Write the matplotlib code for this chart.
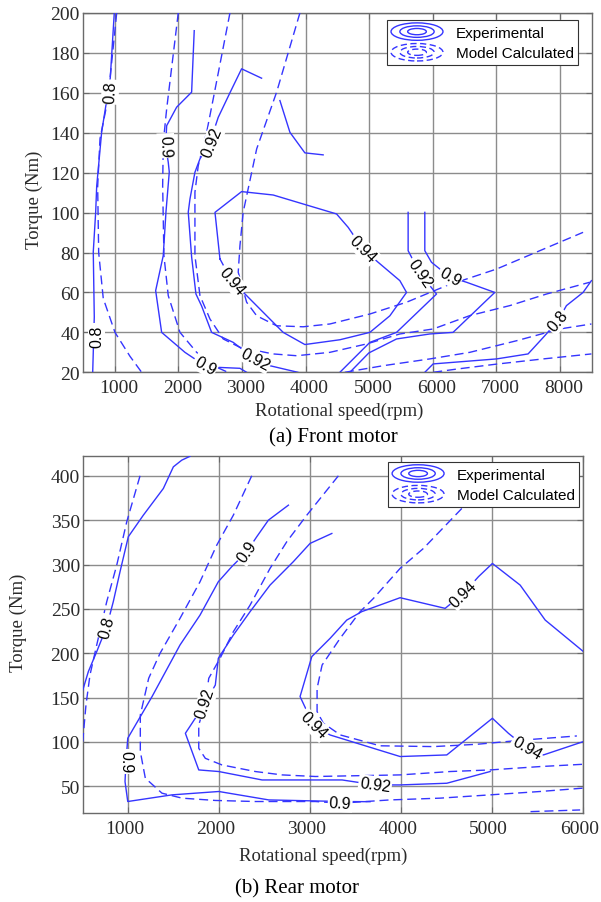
import matplotlib
matplotlib.use("Agg")
import matplotlib.pyplot as plt
from matplotlib.legend_handler import HandlerBase
from matplotlib.patches import Ellipse
from matplotlib.lines import Line2D
from matplotlib.transforms import ScaledTranslation

# ---------------- data: front motor ----------------
front_exp_080a_x = [996, 933, 798, 720, 704, 666, 682, 657]
front_exp_080a_y = [200, 167.4, 140.4, 113.3, 100.3, 80.3, 47.7, 20]
front_mod_080a_x = [1034, 929, 866, 772, 735, 751, 823, 1007, 1243, 1426]
front_mod_080a_y = [200, 167, 152, 137, 113, 80, 57, 40, 28, 20]

front_exp_090a_x = [2252, 2211, 1976, 1819, 1803, 1844, 1860, 1808, 1765, 1646, 1740, 2106, 2420, 2604, 2970, 3075]
front_exp_090a_y = [191.1, 160.3, 152.8, 143.5, 133.5, 125.2, 120.3, 100.3, 78.4, 60.9, 40.0, 30.0, 23.3, 22.5, 22.0, 20]
front_mod_090a_x = [2001, 1819, 1766, 1756, 1776, 1844, 2028, 2290, 2530, 2781]
front_mod_090a_y = [200, 151.9, 135.2, 113.5, 78.4, 58.4, 40.0, 30.0, 23.6, 20]

front_exp_092a_x = [3310, 2996, 2813, 2629, 2499, 2342, 2263, 2185, 2158, 2211, 2279, 2368, 2525, 2864, 3205, 3441, 3880]
front_exp_092a_y = [167.3, 172, 160, 147.7, 135.2, 126.9, 120.2, 106.8, 100.2, 77.8, 59.2, 53.2, 40.0, 35.0, 26.7, 23.3, 20]
front_exp_092b_x = [3598, 3755, 3990, 4277]
front_exp_092b_y = [156.1, 140.2, 129.9, 128.9]
front_exp_092c_x = [5612, 5612, 5796, 6058, 5430, 5011, 4540]
front_exp_092c_y = [100.1, 80.9, 69.7, 59.2, 40.0, 35.0, 20.0]
front_mod_092_x = [2813, 2550, 2447, 2315, 2263, 2263, 2263, 2342, 2499, 2707, 2970, 3492, 3860, 4383,
                   4959, 5482, 6005, 6581, 7209, 7785, 8465]
front_mod_092_y = [200, 156.9, 140.2, 123.5, 110.2, 100.2, 78.4, 58.4, 46.7, 36.7, 32.5, 29.2, 28.3, 30.0,
                   34.2, 39.2, 41.7, 48.4, 53.4, 59.2, 65.1]

front_exp_094_x = [2656, 2578, 2996, 3492, 3963, 4488, 4670, 4901, 5141, 5482, 5587, 5325, 5011, 4540,
                   3990, 3649, 3075, 2839, 2656]
front_exp_094_y = [76.8, 100.1, 110.5, 108.8, 104.3, 99.3, 92.6, 81.8, 75.1, 65.9, 60.0, 48.3, 40.0, 36.3,
                   33.9, 40.0, 58.4, 65.9, 76.8]
front_mod_094_x = [3912, 3546, 3233, 3021, 2970, 2943, 3075, 3233, 3546, 3963, 4383, 5011, 5587, 6215,
                   7000, 7680, 8360]
front_mod_094_y = [200, 160.3, 131.9, 100.2, 83.4, 70.1, 55.1, 48.3, 43.3, 42.8, 44.2, 49.2, 55.1, 63.4,
                   71.7, 80.9, 90.1]

front_exp_090b_x = [5874, 5874, 5979, 6267, 6529, 6973, 6318, 5953, 5430, 4995, 4697]
front_exp_090b_y = [100.1, 80.9, 75.1, 67.7, 65.1, 60.0, 40.0, 39.2, 36.7, 29.7, 20]
front_mod_090b_x = [4618, 5219, 5953, 6581, 7314, 7994, 8491]
front_mod_090b_y = [20, 23.3, 26.7, 30.0, 35.8, 41.7, 44.2]

front_exp_080b_x = [8491, 8360, 8099, 7962, 7758, 7496, 7000, 6005, 5874]
front_exp_080b_y = [65.9, 60.0, 53.4, 45.7, 38.3, 29.2, 26.7, 24.2, 20.0]
front_mod_080b_x = [6005, 6371, 7000, 7732, 8491]
front_mod_080b_y = [20, 21.6, 24.1, 26.7, 29.2]

front_label_text = ['0.8', '0.8', '0.9', '0.92', '0.94', '0.9', '0.92', '0.94', '0.92', '0.9', '0.8']
front_label_x = [931, 720, 1803, 2530, 2839, 2420, 3205, 4901, 5796, 6267, 7962]
front_label_y = [160.4, 38.3, 133.5, 135.2, 65.9, 23.3, 26.7, 81.8, 69.7, 67.7, 45.7]
front_label_rot = [87, 90, -88, 68, -50, -30, -28, -45, -55, -30, 50]

# ---------------- data: rear motor ----------------
rear_exp_080_x = [1679, 1588, 1496, 1386, 1166, 1001, 910, 836, 764, 654, 562, 500]
rear_exp_080_y = [422, 417.6, 410.1, 385.7, 355.6, 331.3, 291.9, 258.1, 230, 201.8, 179.3, 158.2]
rear_mod_080_x = [1130, 984, 874, 764, 654, 580, 536, 500]
rear_mod_080_y = [400, 348.2, 299.3, 258.1, 209.3, 175.5, 141.7, 100.5]
rear_mod_080b_x = [5420, 5965]
rear_mod_080b_y = [21.5, 23.4]

rear_exp_090_x = [2760, 2540, 2412, 2302, 2137, 1990, 1789, 1569, 1262, 995, 976, 965, 995, 1481, 1995,
                  2544, 3350, 3657]
rear_exp_090_y = [366.9, 350.0, 331.3, 314.4, 297.5, 280.6, 243.0, 209.3, 151.2, 104.2, 78, 55.4, 32.9,
                  40.4, 44.2, 34.7, 32.9, 32.7]
rear_mod_090_x = [2357, 2155, 1973, 1789, 1569, 1350, 1225, 1133, 1133, 1188, 1371, 1591, 1957, 2397,
                  3056, 3328, 3877, 4427, 4976, 5526, 6000]
rear_mod_090_y = [400, 355.6, 321.9, 280.6, 239.3, 200, 171.8, 130.4, 89.2, 59.2, 42.3, 36.7, 34.1, 32.9,
                  32.9, 31, 34.7, 36.7, 40.4, 44.2, 48.0]

rear_exp_092_x = [3237, 2998, 2814, 2558, 2339, 2155, 1990, 1957, 1844, 1701, 1628, 1775, 1995, 2471,
                  3350, 3712, 3987, 4500, 4976]
rear_exp_092_y = [335.0, 323.8, 303.2, 276.8, 246.9, 220.5, 194.3, 164.2, 143.6, 121.1, 109.8, 68.5,
                  66.7, 57.2, 57.2, 51.6, 51.6, 53.5, 66.7]
rear_mod_092_x = [3309, 2962, 2742, 2558, 2339, 2155, 2009, 1885, 1847, 1775, 1775, 1847, 2031, 2397,
                  2690, 3056, 3987, 4537, 4976, 5526, 6002]
rear_mod_092_y = [400, 355.6, 325.7, 295.6, 254.3, 224.3, 194.3, 171.8, 143.6, 119.2, 92.9, 81.6, 74.1,
                  66.7, 62.9, 61.1, 62.9, 66.7, 68.5, 72.3, 74.9]

rear_exp_094_x = [6002, 5581, 5306, 5001, 4848, 4683, 4482, 3987, 3566, 3401, 3218, 3017, 2888, 3034,
                  3218, 3987, 4500, 5001, 5177, 5380, 5562, 6002]
rear_exp_094_y = [201.8, 237.4, 276.8, 301.2, 286.3, 267.5, 250.6, 262.6, 246.9, 237.4, 216.8, 196.2,
                  151.2, 119.2, 107.9, 83.6, 85.4, 126.7, 109.8, 93.0, 85.4, 100.5]
rear_mod_094_x = [4665, 4243, 3987, 3694, 3548, 3328, 3130, 3075, 3075, 3144, 3331, 3767, 4353, 4830,
                  5342, 5929]
rear_mod_094_y = [363.2, 318.1, 295.6, 261.8, 246.9, 216.8, 186.7, 160.5, 134.3, 121.1, 107.9, 95.7,
                  94.8, 97.4, 102.2, 106.8]

rear_label_text = ['0.8', '0.9', '0.9', '0.92', '0.92', '0.94', '0.94', '0.94', '0.9']
rear_label_x = [764, 2302, 976, 1844, 3712, 3034, 4683, 5380, 3328]
rear_label_y = [230, 314.4, 78, 143.6, 51.6, 119.2, 267.5, 93.0, 31]
rear_label_rot = [75, 55, -90, 72, -8, -45, 45, -30, -3]

front_xticks = [1000, 2000, 3000, 4000, 5000, 6000, 7000, 8000]
front_yticks = [20, 40, 60, 80, 100, 120, 140, 160, 180, 200]
rear_xticks = [1000, 2000, 3000, 4000, 5000, 6000]
rear_yticks = [50, 100, 150, 200, 250, 300, 350, 400]

legend_labels = ['Experimental', 'Model Calculated']

# ---------------- style ----------------
BLUE = '#3535ff'
DASH = (0, (6.5, 3.5))
SERIF = ['Liberation Serif', 'DejaVu Serif']
SANS = ['Liberation Sans', 'DejaVu Sans']


class ContourHandler(HandlerBase):
    def __init__(self, ls):
        super().__init__()
        self.ls = ls

    def create_artists(self, legend, orig_handle, xdescent, ydescent, width, height, fontsize, trans):
        cx = width / 2 - xdescent
        cy = height / 2 - ydescent
        arts = []
        for f in (1.0, 0.66, 0.36):
            e = Ellipse((cx, cy), width * f, height * 1.15 * f, fill=False, ec=BLUE, lw=1.0,
                        ls=self.ls, transform=trans)
            arts.append(e)
        return arts


fig = plt.figure(figsize=(6.01, 9.03), dpi=100)
fig.patch.set_facecolor('white')

ax1 = fig.add_axes([0.1376, 0.5866, 0.8474, 0.398])
ax2 = fig.add_axes([0.1376, 0.0986, 0.833, 0.395])


def style_axes(ax, xlim, ylim, xticks, yticks, xshift_px):
    ax.set_xlim(*xlim)
    ax.set_ylim(*ylim)
    ax.set_xticks(xticks)
    ax.set_yticks(yticks)
    ax.grid(True, color='#8c8c8c', lw=1.0, ls='-')
    ax.set_axisbelow(True)
    for s in ax.spines.values():
        s.set_color('#6a6a6a')
        s.set_linewidth(1.0)
    ax.tick_params(which='both', direction='in', top=True, right=True, length=4,
                   color='#6a6a6a', labelcolor='#2a2a2a', labelsize=14)
    ax.tick_params(axis='x', pad=5)
    ax.tick_params(axis='y', pad=2)
    off = ScaledTranslation(xshift_px / 100.0, 0, fig.dpi_scale_trans)
    for lab in ax.get_xticklabels():
        lab.set_family(SERIF)
        lab.set_transform(lab.get_transform() + off)
    for lab in ax.get_yticklabels():
        lab.set_family(SERIF)


style_axes(ax1, (500, 8500), (20, 200), front_xticks, front_yticks, 4)
style_axes(ax2, (500, 6000), (20, 422), rear_xticks, rear_yticks, -3.5)

front_exp = [(front_exp_080a_x, front_exp_080a_y), (front_exp_090a_x, front_exp_090a_y),
             (front_exp_092a_x, front_exp_092a_y), (front_exp_092b_x, front_exp_092b_y),
             (front_exp_092c_x, front_exp_092c_y), (front_exp_094_x, front_exp_094_y),
             (front_exp_090b_x, front_exp_090b_y), (front_exp_080b_x, front_exp_080b_y)]
front_mod = [(front_mod_080a_x, front_mod_080a_y), (front_mod_090a_x, front_mod_090a_y),
             (front_mod_092_x, front_mod_092_y), (front_mod_094_x, front_mod_094_y),
             (front_mod_090b_x, front_mod_090b_y), (front_mod_080b_x, front_mod_080b_y)]
rear_exp = [(rear_exp_080_x, rear_exp_080_y), (rear_exp_090_x, rear_exp_090_y),
            (rear_exp_092_x, rear_exp_092_y), (rear_exp_094_x, rear_exp_094_y)]
rear_mod = [(rear_mod_080_x, rear_mod_080_y), (rear_mod_080b_x, rear_mod_080b_y),
            (rear_mod_090_x, rear_mod_090_y), (rear_mod_092_x, rear_mod_092_y),
            (rear_mod_094_x, rear_mod_094_y)]


def draw(ax, exp, mod, lt, lx, ly, lr, legend_anchor):
    for x, y in exp:
        ax.plot(x, y, color=BLUE, lw=1.0, ls='-', clip_on=True, zorder=3)
    for x, y in mod:
        ax.plot(x, y, color=BLUE, lw=1.0, ls=DASH, clip_on=True, zorder=3)
    for t, x, y, r in zip(lt, lx, ly, lr):
        ax.text(x, y, t, rotation=r, rotation_mode='anchor', ha='center', va='center',
                fontsize=11.5, family=SANS, color='black', zorder=5,
                bbox=dict(boxstyle='square,pad=0.08', fc='white', ec='none'))
    h1 = Line2D([], [], color=BLUE)
    h2 = Line2D([], [], color=BLUE, ls='--')
    leg = ax.legend([h1, h2], legend_labels, loc='upper right', bbox_to_anchor=legend_anchor,
                    borderaxespad=0,
                    handler_map={h1: ContourHandler('-'), h2: ContourHandler((0, (4.5, 2.5)))},
                    prop={'family': SANS, 'size': 11}, handlelength=3.4, handleheight=1.15,
                    handletextpad=0.85, borderpad=0.28, labelspacing=0.32, fancybox=False,
                    framealpha=1.0, edgecolor='#333333')
    leg.get_frame().set_linewidth(0.8)
    leg.set_zorder(10)


draw(ax1, front_exp, front_mod, front_label_text, front_label_x, front_label_y, front_label_rot,
     (0.973, 0.981))
draw(ax2, rear_exp, rear_mod, rear_label_text, rear_label_x, rear_label_y, rear_label_rot,
     (0.992, 0.985))

# axis labels and captions
fig.text(0.564, 0.544, 'Rotational speed(rpm)', ha='center', va='center', fontsize=13.5,
         family=SERIF, color='#2a2a2a')
fig.text(0.537, 0.052, 'Rotational speed(rpm)', ha='center', va='center', fontsize=13.5,
         family=SERIF, color='#2a2a2a')
fig.text(0.057, 0.7785, 'Torque (Nm)', rotation=90, ha='center', va='center', fontsize=13.5,
         family=SERIF, color='#2a2a2a')
fig.text(0.030, 0.310, 'Torque (Nm)', rotation=90, ha='center', va='center', fontsize=13.5,
         family=SERIF, color='#2a2a2a')
fig.text(0.554, 0.515, '(a) Front motor', ha='center', va='center', fontsize=15,
         family=SERIF, color='black')
fig.text(0.495, 0.0155, '(b) Rear motor', ha='center', va='center', fontsize=15,
         family=SERIF, color='black')

fig.savefig('out.png', dpi=100, facecolor='white')
